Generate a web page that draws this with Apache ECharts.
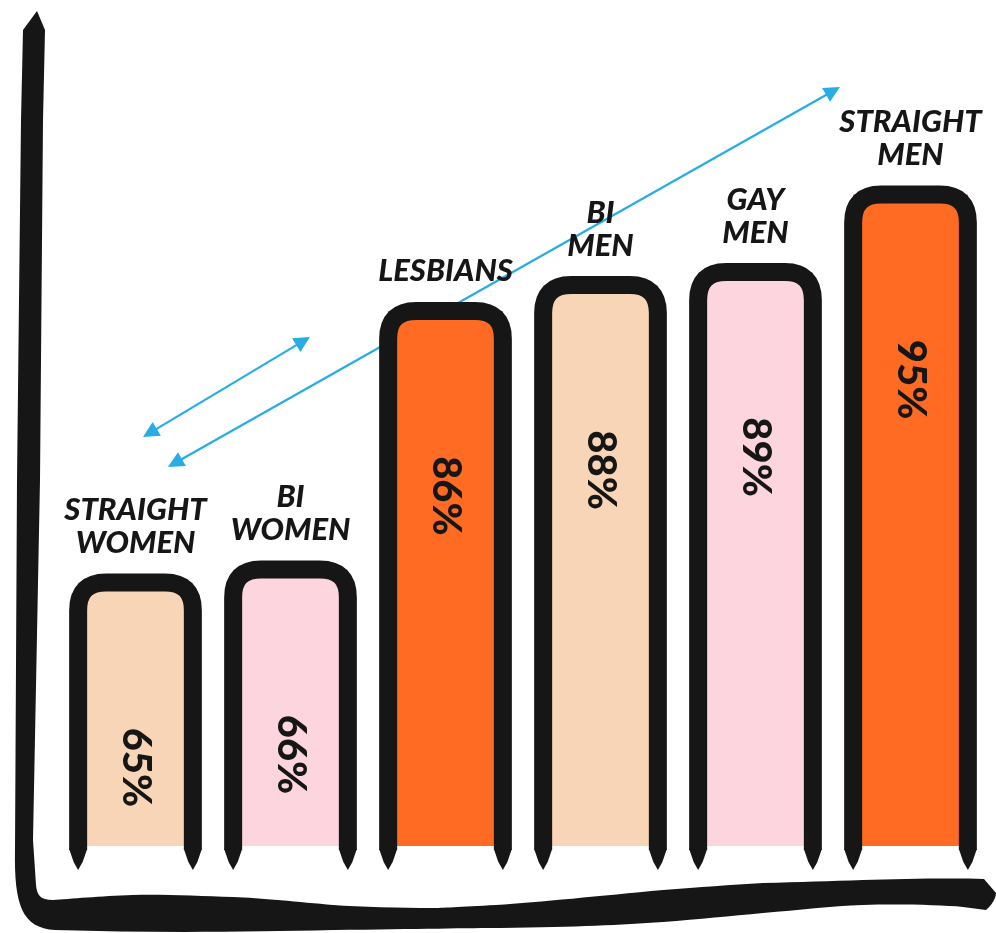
<!DOCTYPE html>
<html><head><meta charset="utf-8">
<script src="https://cdn.jsdelivr.net/npm/echarts@6/dist/echarts.min.js"></script>
<style>html,body{margin:0;padding:0;background:#fff}#c{width:996px;height:933px}</style>
</head><body><div id="c"></div>
<script>
const categories = ['Straight women','Bi women','Lesbians','Bi men','Gay men','Straight men'];
const catLabels = ['STRAIGHT\nWOMEN','BI\nWOMEN','LESBIANS','BI\nMEN','GAY\nMEN','STRAIGHT\nMEN'];
const values = [65, 66, 86, 88, 89, 95];
const valueLabels = ['65%','66%','86%','88%','89%','95%'];
const barColors = ['#F8D5B6','#FDD5DF','#FF6B22','#F8D5B6','#FDD5DF','#FF6B22'];
const Y_MIN = 44.3, Y_MAX = 108.5;
const INK = '#161616', BLUE = '#27ACE3';

const chart = echarts.init(document.getElementById('c'));

function arrowGroup(x1,y1,x2,y2){
  const ang = Math.atan2(y2-y1, x2-x1);
  const L = 16, W = 8;
  function head(x,y,a){
    const bx = x - L*Math.cos(a), by = y - L*Math.sin(a);
    return {type:'polygon', shape:{points:[[x,y],[bx - W*Math.sin(a), by + W*Math.cos(a)],[bx + W*Math.sin(a), by - W*Math.cos(a)]]}, style:{fill:BLUE}};
  }
  return {type:'group', children:[
    {type:'line', shape:{x1:x1+10*Math.cos(ang), y1:y1+10*Math.sin(ang), x2:x2-10*Math.cos(ang), y2:y2-10*Math.sin(ang)}, style:{stroke:BLUE, lineWidth:2.2}},
    head(x2,y2,ang), head(x1,y1,ang+Math.PI)
  ]};
}

const axisPath = 'M 37 11 L 23 30 L 21 120 L 17 480 L 15 850 C 14 905 22 928 55 930 ' +
  'C 150 933 250 932 333 930 C 420 929 470 928 500 928 C 580 927 620 925 663 922 C 700 919 730 916 763 913 ' +
  'C 800 910 830 906 863 905 C 900 904 940 905 963 907 L 986 910 C 992 905 996 898 996 893 L 984 879 ' +
  'C 950 878 900 879 863 880 C 830 881 800 882 763 883 C 730 885 700 887 663 890 C 600 896 540 902 496 905 ' +
  'C 460 907 440 908 433 908 C 400 908 360 907 333 905 C 300 902 260 898 233 897 C 200 896 160 894 133 895 ' +
  'C 100 896 70 899 53 900 C 40 900 37 895 36 885 L 33 840 L 40 480 L 43 120 L 45 30 Z';

const option = {
  backgroundColor:'#fff',
  animation:false,
  grid:{left:58, right:8, top:20, bottom:83},
  xAxis:{type:'category', data:categories, show:false},
  yAxis:{type:'value', min:Y_MIN, max:Y_MAX, show:false},
  graphic:[
    arrowGroup(143,437,310,337),
    arrowGroup(168,467,840,87)
  ],
  series:[{
    type:'custom',
    coordinateSystem:'none',
    data:[[0]],
    silent:true,
    renderItem:function(){
      return {type:'path', shape:{pathData:axisPath}, style:{fill:INK}};
    }
  },{
    type:'custom',
    data: values.map((v,i)=>[i,v]),
    renderItem:function(params, api){
      const idx = api.value(0), v = api.value(1);
      const top = api.coord([idx, v]);
      const base = api.coord([idx, Y_MIN]);
      const band = api.size([1,0])[0];
      const w = band*0.74;
      const cx = top[0];
      const x0 = cx - w/2, x1 = cx + w/2;
      const yT = top[1], yB = base[1];
      const r = 28, lw = 18;
      const pd = `M ${x0} ${yB} L ${x0} ${yT+r} Q ${x0} ${yT} ${x0+r} ${yT} L ${x1-r} ${yT} Q ${x1} ${yT} ${x1} ${yT+r} L ${x1} ${yB}`;
      function tip(x){
        return {type:'polygon', shape:{points:[[x-lw/2,yB-1],[x+lw/2,yB-1],[x+lw/4,yB+12],[x,yB+20],[x-lw/4,yB+12]]}, style:{fill:INK}};
      }
      return {type:'group', children:[
        {type:'rect', shape:{x:x0, y:yT, width:w, height:yB-yT-4}, style:{fill:barColors[idx]}},
        {type:'path', shape:{pathData:pd}, style:{stroke:INK, lineWidth:lw, fill:null, lineJoin:'round'}},
        tip(x0), tip(x1),
        {type:'text', x:cx, y:yT-lw/2-14, style:{text:catLabels[idx], fill:INK, font:'italic 900 31px Lato, "DejaVu Sans"', align:'center', verticalAlign:'bottom', lineHeight:33}},
        {type:'text', x:cx, y:yT+185, rotation:-Math.PI/2, style:{text:valueLabels[idx], fill:INK, font:'900 40px Lato, "DejaVu Sans"', align:'center', verticalAlign:'middle'}}
      ]};
    }
  }]
};
chart.setOption(option);
</script></body></html>
